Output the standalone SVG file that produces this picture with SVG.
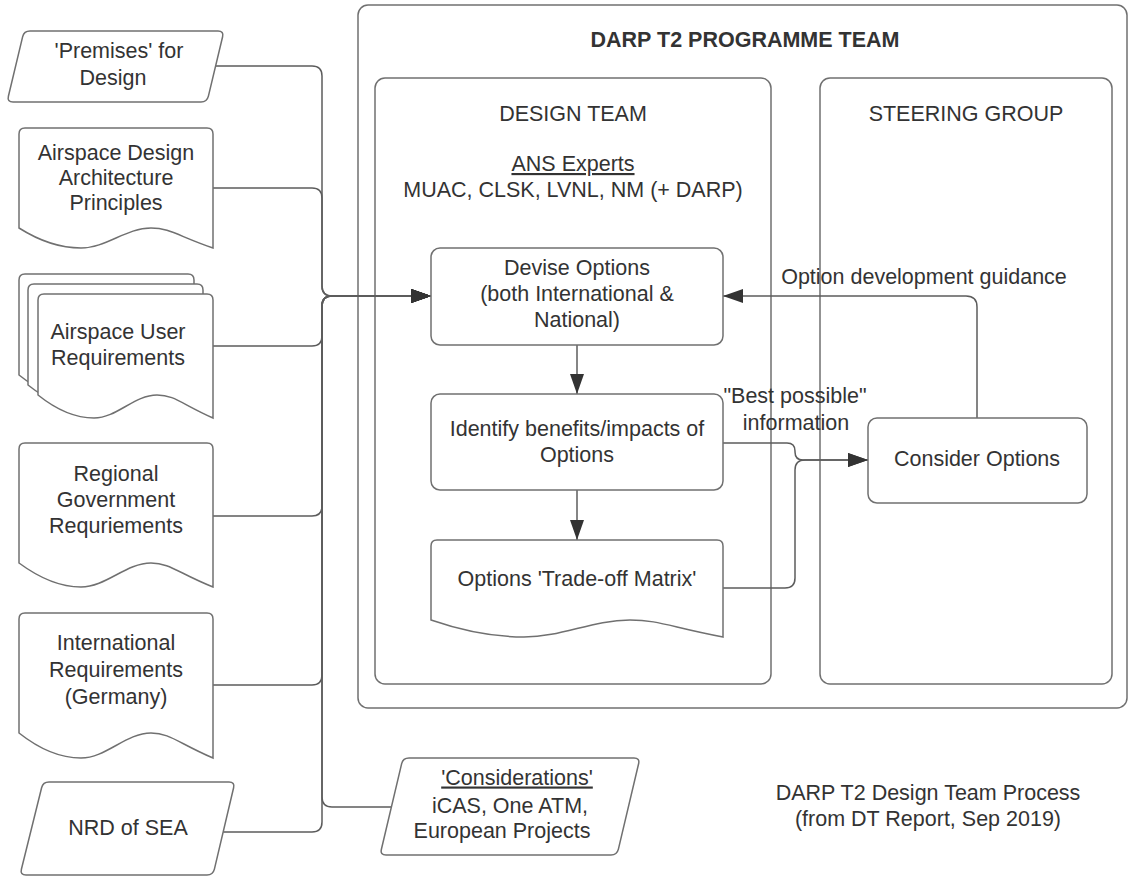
<svg xmlns="http://www.w3.org/2000/svg" width="1128" height="877" viewBox="0 0 1128 877">
  <defs>
    <style>
      .shape { fill: #ffffff; stroke: #707070; stroke-width: 1.5; }
      .frame { fill: none; stroke: #707070; stroke-width: 1.5; }
      .conn { fill: none; stroke: #5c5c5c; stroke-width: 1.5; }
      text { font-family: "Liberation Sans", Arial, sans-serif; font-size: 21.5px; fill: #333333; text-anchor: middle; }
      .bold { font-weight: bold; }
      .ul { text-decoration: underline; }
    </style>
    <marker id="arrow" markerUnits="userSpaceOnUse" markerWidth="20" markerHeight="14" refX="20" refY="7" orient="auto">
      <path d="M0,0 L20,7 L0,14 Z" fill="#333333"/>
    </marker>
  </defs>

  <rect width="1128" height="877" fill="#ffffff"/>

  <!-- containers -->
  <g id="programme-team">
    <rect class="frame" x="358" y="5" width="769" height="703" rx="10"/>
    <text class="bold" x="745" y="47">DARP T2 PROGRAMME TEAM</text>
  </g>
  <g id="design-team">
    <rect class="frame" x="375" y="78" width="396" height="606" rx="10"/>
    <text x="573" y="120.5">DESIGN TEAM</text>
    <text class="ul" x="573" y="171">ANS Experts</text>
    <text x="573" y="197">MUAC, CLSK, LVNL, NM (+ DARP)</text>
  </g>
  <g id="steering-group">
    <rect class="frame" x="820" y="78" width="292" height="606" rx="10"/>
    <text x="966" y="120.5">STEERING GROUP</text>
  </g>

  <!-- connectors -->
  <g id="connectors">
    <path class="conn" d="M215.6,66 H312 Q322,66 322,76 V286 Q322,296 332,296 H431" marker-end="url(#arrow)"/>
    <path class="conn" d="M213,188 H312 Q322,188 322,198 V286 Q322,296 332,296 H431" marker-end="url(#arrow)"/>
    <path class="conn" d="M213,346 H312 Q322,346 322,336 V306 Q322,296 332,296 H431" marker-end="url(#arrow)"/>
    <path class="conn" d="M213,516 H312 Q322,516 322,506 V306 Q322,296 332,296 H431" marker-end="url(#arrow)"/>
    <path class="conn" d="M213,685 H312 Q322,685 322,675 V306 Q322,296 332,296 H431" marker-end="url(#arrow)"/>
    <path class="conn" d="M223.2,832 H312 Q322,832 322,822 V306 Q322,296 332,296 H431" marker-end="url(#arrow)"/>
    <path class="conn" d="M391.4,807 H332 Q322,807 322,797 V306 Q322,296 332,296 H431" marker-end="url(#arrow)"/>
    <path class="conn" d="M577,345 V394" marker-end="url(#arrow)"/>
    <path class="conn" d="M577,490 V540" marker-end="url(#arrow)"/>
    <path class="conn" d="M723,443 H787 Q795,443 795,451 V452 Q795,460 803,460 H868" marker-end="url(#arrow)"/>
    <path class="conn" d="M723,588 H785 Q795,588 795,578 V470 Q795,460 805,460 H868" marker-end="url(#arrow)"/>
    <path class="conn" d="M977,418 V307 Q977,296 966,296 H723" marker-end="url(#arrow)"/>
    <text x="924" y="283.5">Option development guidance</text>
    <text x="795" y="402.5">"Best possible"</text>
    <text x="796" y="429.5">information</text>
  </g>

  <!-- inputs -->
  <g id="premises">
    <path class="shape" d="M30,31 H218 Q224,31 222.6,36.8 L208.4,96.2 Q207,102 201,102 H13 Q7,102 8.4,96.2 L22.6,36.8 Q24,31 30,31 Z"/>
    <text x="119" y="57.5">'Premises' for</text>
    <text x="113" y="84.5">Design</text>
  </g>
  <g id="design-principles">
    <path class="shape" d="M25,128 H207 Q213,128 213,134 V248 C178,236 170,228 151,228 C126,228 106,248 81,248 C58,248 38,240 19,228 V134 Q19,128 25,128 Z"/>
    <text x="116" y="159.5">Airspace Design</text>
    <text x="116" y="184.5">Architecture</text>
    <text x="116" y="209.5">Principles</text>
  </g>
  <g id="user-requirements">
    <path class="shape" transform="translate(-19,-20)" d="M44,294 H207 Q213,294 213,300 V418 C181.5,404 174.5,395 157,395 C134,395 117,418 94,418 C73,418 55.5,409 38,395 V300 Q38,294 44,294 Z"/>
    <path class="shape" transform="translate(-10,-10)" d="M44,294 H207 Q213,294 213,300 V418 C181.5,404 174.5,395 157,395 C134,395 117,418 94,418 C73,418 55.5,409 38,395 V300 Q38,294 44,294 Z"/>
    <path class="shape" d="M44,294 H207 Q213,294 213,300 V418 C181.5,404 174.5,395 157,395 C134,395 117,418 94,418 C73,418 55.5,409 38,395 V300 Q38,294 44,294 Z"/>
    <text x="118" y="338.5">Airspace User</text>
    <text x="118" y="364.5">Requirements</text>
  </g>
  <g id="regional-requirements">
    <path class="shape" d="M25,443 H207 Q213,443 213,449 V587 C178,573 170,563 151,563 C126,563 106,587 81,587 C58,587 38,577 19,563 V449 Q19,443 25,443 Z"/>
    <text x="116" y="480.5">Regional</text>
    <text x="116" y="506.5">Government</text>
    <text x="116" y="532.5">Requriements</text>
  </g>
  <g id="international-requirements">
    <path class="shape" d="M25,613 H207 Q213,613 213,619 V758 C178,743 170,733 151,733 C126,733 106,758 81,758 C58,758 38,748 19,733 V619 Q19,613 25,613 Z"/>
    <text x="116" y="649.5">International</text>
    <text x="116" y="676.5">Requirements</text>
    <text x="116" y="703.5">(Germany)</text>
  </g>
  <g id="nrd-sea">
    <path class="shape" d="M49,782 H229 Q235,782 233.6,787.8 L214.4,869.2 Q213,875 207,875 H26 Q20,875 21.4,869.2 L41.6,787.8 Q43,782 49,782 Z"/>
    <text x="128" y="834.5">NRD of SEA</text>
  </g>
  <g id="considerations">
    <path class="shape" d="M409,758 H634 Q640,758 638.6,763.8 L618.4,849.2 Q617,855 611,855 H386 Q380,855 381.4,849.2 L401.6,763.8 Q403,758 409,758 Z"/>
    <text class="ul" x="517" y="784.5">'Considerations'</text>
    <text x="510" y="812.5">iCAS, One ATM,</text>
    <text x="502" y="837.5">European Projects</text>
  </g>

  <!-- process steps -->
  <g id="devise-options">
    <rect class="shape" x="431" y="248" width="292" height="97" rx="9"/>
    <text x="577" y="274.5">Devise Options</text>
    <text x="577" y="300.5">(both International &amp;</text>
    <text x="577" y="326.5">National)</text>
  </g>
  <g id="identify-benefits">
    <rect class="shape" x="431" y="394" width="292" height="96" rx="9"/>
    <text x="577" y="435.5">Identify benefits/impacts of</text>
    <text x="577" y="461.5">Options</text>
  </g>
  <g id="trade-off-matrix">
    <path class="shape" d="M437,540 H717 Q723,540 723,546 V637 C670,627 659,620 630,620 C592,620 562,637 524,637 C489,637 460,630 431,620 V546 Q431,540 437,540 Z"/>
    <text x="577" y="585.5">Options 'Trade-off Matrix'</text>
  </g>
  <g id="consider-options">
    <rect class="shape" x="868" y="418" width="219" height="85" rx="9"/>
    <text x="977" y="466">Consider Options</text>
  </g>

  <g id="caption">
    <text x="928" y="799.5">DARP T2 Design Team Process</text>
    <text x="928" y="825.5">(from DT Report, Sep 2019)</text>
  </g>
</svg>
